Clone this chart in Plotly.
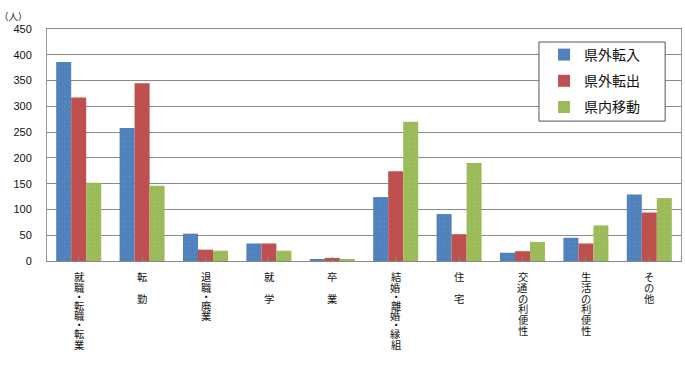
import plotly.graph_objects as go

categories = ["就職・転職・転業", "転　勤", "退職・廃業", "就　学", "卒　業",
              "結婚・離婚・縁組", "住　宅", "交通の利便性", "生活の利便性", "その他"]
series_names = ["県外転入", "県外転出", "県内移動"]
in_pref = [386, 258, 53, 34, 4, 124, 91, 16, 45, 129]
out_pref = [317, 345, 22, 34, 6, 174, 52, 19, 34, 94]
within = [152, 146, 20, 20, 4, 270, 190, 37, 69, 122]
y_ticks = [0, 50, 100, 150, 200, 250, 300, 350, 400, 450]
unit_label = "（人）"

colors = ["#4F81BD", "#C0504D", "#9BBB59"]
dot_colors = ["#6FA8B0", "#9A4A78", "#BCD28A"]
values = [in_pref, out_pref, within]

fig = go.Figure()
for name, vals, c, dc in zip(series_names, values, colors, dot_colors):
    fig.add_trace(go.Bar(
        x=list(range(len(categories))), y=vals, name=name, legendgroup=name,
        marker=dict(color=c, line=dict(width=0),
                    pattern=dict(shape=".", fgcolor=dc, bgcolor=c, size=5, solidity=0.06)),
    ))

font_cjk = "Noto Sans CJK JP"
annotations = []
for i, lab in enumerate(categories):
    off = 0.0
    for ch in lab:
        h = 7.0 if ch == "・" else 10.8
        center = off + h / 2
        off += h
        if ch == "　":
            continue
        annotations.append(dict(
            x=i, y=0, xref="x", yref="y", text=ch, showarrow=False,
            xanchor="center", yanchor="middle", yshift=-(10 + center),
            font=dict(family=font_cjk, size=10.3, color="#111"),
        ))
annotations.append(dict(
    x=0, y=1, xref="paper", yref="paper", text=unit_label, showarrow=False,
    xanchor="left", yanchor="middle", xshift=-50, yshift=13,
    font=dict(family=font_cjk, size=9.5, color="#222"),
))

fig.update_layout(
    width=685, height=374,
    margin=dict(l=47, r=4, t=29, b=113),
    paper_bgcolor="white", plot_bgcolor="white",
    barmode="group", bargap=0.29, bargroupgap=0,
    showlegend=True,
    legend=dict(
        x=0.784, y=0.957, xanchor="left", yanchor="top",
        bgcolor="rgba(0,0,0,0)", borderwidth=0,
        font=dict(family=font_cjk, size=14, color="#111"),
        tracegroupgap=5, itemwidth=30,
    ),
    shapes=[dict(
        type="rect", xref="paper", yref="paper",
        x0=0.776, x1=0.975, y0=0.603, y1=0.944,
        fillcolor="white", line=dict(color="#555", width=1), layer="above",
    )],
    annotations=annotations,
    xaxis=dict(
        range=[-0.5, len(categories) - 0.5], showticklabels=False,
        ticks="inside", tickson="boundaries", ticklen=4, tickcolor="#888",
        tickvals=list(range(len(categories))),
        showline=True, linecolor="#888", linewidth=1, mirror=True,
        showgrid=False, zeroline=False,
    ),
    yaxis=dict(
        range=[0, 450], tickvals=y_ticks, ticks="",
        tickfont=dict(family="Liberation Sans, Arial", size=11, color="#111"),
        showgrid=True, gridcolor="#8a8a8a", gridwidth=1,
        showline=True, linecolor="#999", linewidth=1, mirror=True,
        zeroline=False, ticklabelstandoff=12,
    ),
)

fig.write_html("out.html", config={"displayModeBar": False},
               post_script="document.body.style.margin='0px';")
